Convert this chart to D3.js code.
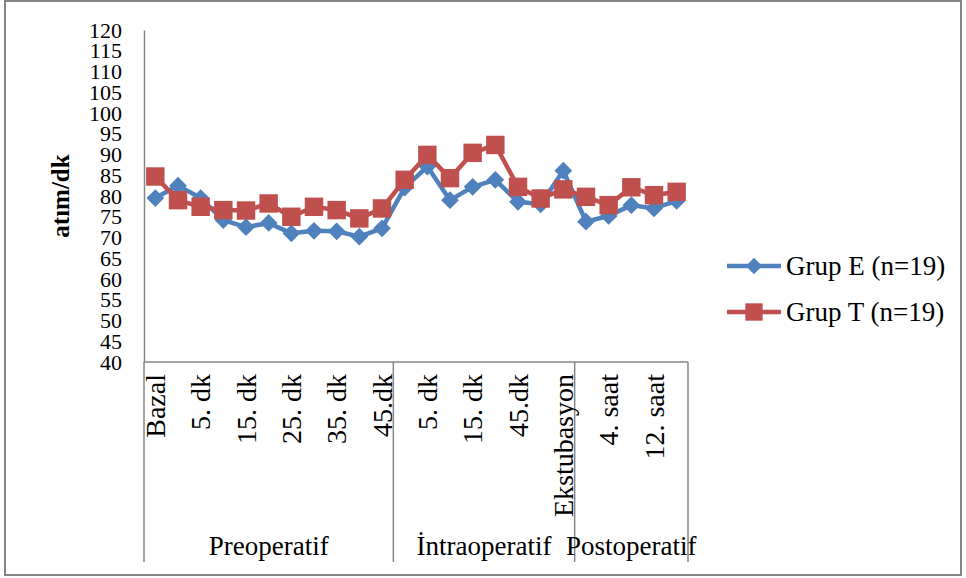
<!DOCTYPE html>
<html>
<head>
<meta charset="utf-8">
<script src="https://cdn.jsdelivr.net/npm/d3@7"></script>
<style>
  html, body { margin: 0; padding: 0; background: #fff; }
  svg { display: block; font-family: "Liberation Serif", "Times New Roman", serif; }
</style>
</head>
<body>
<svg id="chart" width="966" height="578"></svg>
<script>
// Heart rate (atım/dk) over time points, two groups
const categories = [
  "Bazal", "1. dk", "5. dk", "10. dk", "15. dk", "20. dk", "25. dk", "30. dk", "35. dk", "40. dk", "45.dk",
  "İndüksiyon", "5. dk", "10. dk", "15. dk", "30. dk", "45.dk", "60. dk", "Ekstubasyon",
  "1. saat", "4. saat", "8. saat", "12. saat", "24. saat"
];
const groupNames = ["Preoperatif", "İntraoperatif", "Postoperatif"];
const groupSizes = [11, 8, 5];

const grupE = [79.5, 82.5, 79.5, 74.2, 72.5, 73.5, 71.0, 71.6, 71.5, 70.2, 72.2,
               82.0, 87.1, 79.0, 82.2, 83.9, 78.6, 78.0, 86.1,
               73.8, 75.2, 77.8, 77.0, 78.8];
const grupT = [84.7, 79.0, 77.4, 76.6, 76.5, 78.2, 75.0, 77.4, 76.6, 74.6, 77.0,
               83.9, 89.9, 84.3, 90.4, 92.3, 82.2, 79.4, 81.6,
               79.8, 77.8, 82.1, 80.2, 81.0];
const seriesNames = ["Grup E (n=19)", "Grup T (n=19)"];
const seriesColors = ["#4F81BD", "#C0504D"];
const yTickValues = d3.range(40, 121, 5);

const svg = d3.select("#chart");

// outer chart frame
svg.append("rect")
  .attr("x", 5).attr("y", 1).attr("width", 956).attr("height", 574)
  .attr("fill", "none").attr("stroke", "#868686").attr("stroke-width", 2);

const plot = { left: 144, right: 688, top: 30, bottom: 362 };

const x = d3.scaleBand().domain(d3.range(categories.length)).range([plot.left, plot.right]);
const cx = i => x(i) + x.bandwidth() / 2;
const y = d3.scaleLinear().domain([40, 120]).range([plot.bottom, plot.top]);

// value axis
const yAxis = svg.append("g")
  .attr("transform", `translate(${plot.left},0)`)
  .call(d3.axisLeft(y).tickValues(yTickValues).tickSize(0).tickPadding(22));
yAxis.select(".domain").attr("stroke", "#868686").attr("stroke-width", 1.5);
yAxis.selectAll("text")
  .attr("font-family", "Liberation Serif, Times New Roman, serif")
  .attr("font-size", 22).attr("fill", "#000");

// value axis title
svg.append("text")
  .attr("transform", "translate(69,196) rotate(-90)")
  .attr("text-anchor", "middle")
  .attr("font-weight", "bold").attr("font-size", 25)
  .text("atım/dk");

// category axis: baseline plus group separators
const axisColor = "#868686";
const sepBottom = 562;
svg.append("line")
  .attr("x1", plot.left).attr("x2", plot.right)
  .attr("y1", plot.bottom).attr("y2", plot.bottom)
  .attr("stroke", axisColor).attr("stroke-width", 1.5);

let start = 0;
const bounds = [0];
groupSizes.forEach(n => { start += n; bounds.push(start); });
bounds.forEach(b => {
  const bx = b < categories.length ? x(b) : plot.right;
  svg.append("line")
    .attr("x1", bx).attr("x2", bx)
    .attr("y1", plot.bottom).attr("y2", sepBottom)
    .attr("stroke", axisColor).attr("stroke-width", 1.5);
});

// category labels (every second one shown)
svg.append("g").selectAll("text")
  .data(categories.map((c, i) => ({ c, i })).filter(d => d.i % 2 === 0))
  .join("text")
  .attr("transform", d => `translate(${cx(d.i)},374) rotate(-90)`)
  .attr("text-anchor", "end")
  .attr("dy", "0.35em")
  .attr("font-size", 28)
  .text(d => d.c);

// group labels
svg.append("g").selectAll("text")
  .data(groupNames.map((g, k) => ({ g, k })))
  .join("text")
  .attr("x", d => {
    const a = x(bounds[d.k]);
    const b = bounds[d.k + 1] < categories.length ? x(bounds[d.k + 1]) : plot.right;
    return (a + b) / 2;
  })
  .attr("y", 555)
  .attr("text-anchor", "middle")
  .attr("font-size", 27)
  .text(d => d.g);

// series lines and markers
const line = d3.line().x((d, i) => cx(i)).y(d => y(d));
const diamond = d3.symbol().type(d3.symbolDiamond2).size(200);
const square = d3.symbol().type(d3.symbolSquare).size(340);

[grupE, grupT].forEach((data, s) => {
  const g = svg.append("g");
  g.append("path")
    .attr("d", line(data))
    .attr("fill", "none")
    .attr("stroke", seriesColors[s])
    .attr("stroke-width", 4.5)
    .attr("stroke-linejoin", "round");
  g.selectAll("path.m")
    .data(data)
    .join("path")
    .attr("class", "m")
    .attr("transform", (d, i) => `translate(${cx(i)},${y(d)})`)
    .attr("d", s === 0 ? diamond : square)
    .attr("fill", seriesColors[s]);
});

// legend
const legendY = [266, 312];
seriesNames.forEach((name, s) => {
  const g = svg.append("g").attr("transform", `translate(0,${legendY[s]})`);
  g.append("line")
    .attr("x1", 727).attr("x2", 781)
    .attr("stroke", seriesColors[s]).attr("stroke-width", 4.5);
  g.append("path")
    .attr("transform", "translate(754,0)")
    .attr("d", s === 0 ? d3.symbol().type(d3.symbolDiamond2).size(170)() : d3.symbol().type(d3.symbolSquare).size(300)())
    .attr("fill", seriesColors[s]);
  g.append("text")
    .attr("x", 786).attr("y", 9)
    .attr("font-size", 27)
    .text(name);
});
</script>
</body>
</html>
